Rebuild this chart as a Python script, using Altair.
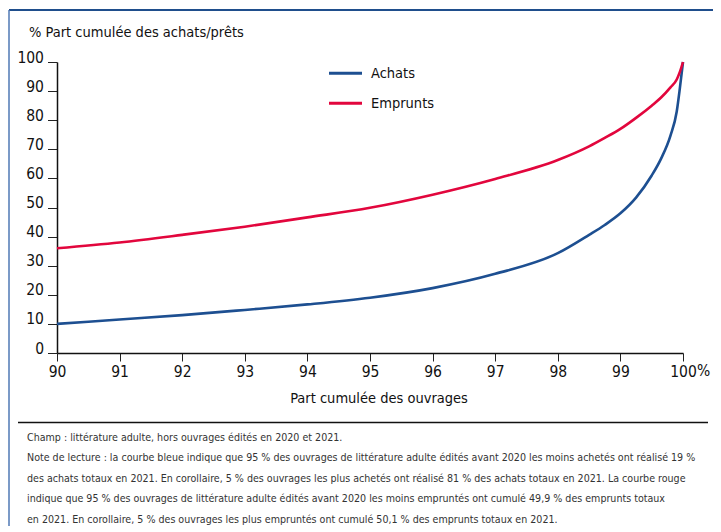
import altair as alt
import pandas as pd

# ---- data ----
x_vals = [90, 91, 92, 93, 94, 95, 96, 97, 98, 98.5, 98.75, 99, 99.25, 99.5, 99.65, 99.8, 99.9, 99.95, 100]
achats = [10.0, 11.5, 13.0, 14.8, 16.7, 19.0, 22.3, 27.2, 34.3, 40.6, 44.0, 48.0, 53.4, 61.0, 66.8, 74.7, 83.0, 91.0, 100.0]
emprunts = [36.0, 38.0, 40.6, 43.4, 46.6, 49.9, 54.4, 59.8, 66.3, 71.0, 73.9, 77.0, 80.8, 85.0, 87.8, 91.3, 94.0, 96.6, 100.0]
series_names = ["Achats", "Emprunts"]
series_colors = ["#1d4f91", "#e2063d"]
x_ticks = [90, 91, 92, 93, 94, 95, 96, 97, 98, 99, 100]
y_ticks = [0, 10, 20, 30, 40, 50, 60, 70, 80, 90, 100]
y_title = "% Part cumulée des achats/prêts"
x_title = "Part cumulée des ouvrages"
notes = [
    "Champ : littérature adulte, hors ouvrages édités en 2020 et 2021.",
    "Note de lecture : la courbe bleue indique que 95 % des ouvrages de littérature adulte édités avant 2020 les moins achetés ont réalisé 19 %",
    "des achats totaux en 2021. En corollaire, 5 % des ouvrages les plus achetés ont réalisé 81 % des achats totaux en 2021. La courbe rouge",
    "indique que 95 % des ouvrages de littérature adulte édités avant 2020 les moins empruntés ont cumulé 49,9 % des emprunts totaux",
    "en 2021. En corollaire, 5 % des ouvrages les plus empruntés ont cumulé 50,1 % des emprunts totaux en 2021.",
]

FONT = "DejaVu Sans Condensed, sans-serif"
TICK_FS = 15.5
TITLE_FS = 14.5
NOTE_FS = 10.6

df = pd.DataFrame(
    {
        "x": x_vals * 2,
        "y": achats + emprunts,
        "serie": [series_names[0]] * len(x_vals) + [series_names[1]] * len(x_vals),
    }
)

W, H = 626, 291

xscale = alt.Scale(domain=[90, 100], nice=False, zero=False)
yscale = alt.Scale(domain=[0, 100], nice=False)

lines = (
    alt.Chart(df)
    .mark_line(strokeWidth=2.6, interpolate="monotone")
    .encode(
        x=alt.X(
            "x:Q",
            scale=xscale,
            axis=alt.Axis(
                values=x_ticks,
                title=None,
                grid=False,
                tickSize=8,
                tickColor="#222",
                labelPadding=3,
                labelFontSize=TICK_FS,
                labelFont=FONT,
                labelColor="#111",
                labelFlush=False,
                labelOverlap=False,
                domainColor="#111",
                domainWidth=1.5,
            ),
        ),
        y=alt.Y(
            "y:Q",
            scale=yscale,
            axis=alt.Axis(
                values=y_ticks,
                title=None,
                grid=False,
                tickSize=9.5,
                tickColor="#222",
                labelPadding=4,
                labelFontSize=TICK_FS,
                labelFont=FONT,
                labelColor="#111",
                labelBaseline="alphabetic",
                labelFlush=False,
                labelOverlap=False,
                domainColor="#111",
                domainWidth=1.5,
            ),
        ),
        color=alt.Color(
            "serie:N",
            scale=alt.Scale(domain=series_names, range=series_colors),
            legend=None,
        ),
        detail="serie:N",
    )
)

base = alt.Chart(pd.DataFrame({"k": [0]}))

# frame (blue top and left borders) and separator line
top_border = base.mark_rule(color="#1f4e8c", strokeWidth=2).encode(
    x=alt.value(-48), x2=alt.value(700), y=alt.value(-52)
)
left_border = base.mark_rule(color="#4f78b5", strokeWidth=1.5).encode(
    x=alt.value(-48), y=alt.value(-52), y2=alt.value(480)
)
separator = base.mark_rule(color="#111", strokeWidth=1.3).encode(
    x=alt.value(-39), x2=alt.value(651), y=alt.value(360.5)
)

# legend (manual)
leg_rows = [11.3, 41.3]
legend_layers = []
for name, col, yy in zip(series_names, series_colors, leg_rows):
    legend_layers.append(
        base.mark_rule(color=col, strokeWidth=3).encode(
            x=alt.value(272), x2=alt.value(305), y=alt.value(yy)
        )
    )
    legend_layers.append(
        base.mark_text(
            text=name, font=FONT, fontSize=TITLE_FS, color="#111", align="left", baseline="middle"
        ).encode(x=alt.value(314), y=alt.value(yy + 0.5))
    )

ytitle = base.mark_text(
    text=y_title, font=FONT, fontSize=TITLE_FS, color="#111", align="left", baseline="alphabetic"
).encode(x=alt.value(-28), y=alt.value(-25))

xtitle = base.mark_text(
    text=x_title, font=FONT, fontSize=TITLE_FS, color="#111", align="center", baseline="alphabetic"
).encode(x=alt.value(322), y=alt.value(341))

pct = base.mark_text(
    text="%", font=FONT, fontSize=TICK_FS, color="#111", align="left", baseline="top"
).encode(x=alt.value(640), y=alt.value(302))

footnote = base.mark_text(
    font=FONT, fontSize=NOTE_FS, color="#333", align="left", baseline="alphabetic", lineHeight=20.6
).encode(x=alt.value(-30), y=alt.value(378.5), text=alt.value(notes))

chart = (
    alt.layer(
        top_border,
        left_border,
        separator,
        lines,
        *legend_layers,
        ytitle,
        xtitle,
        pct,
        footnote,
    )
    .properties(
        width=W,
        height=H,
        autosize=alt.AutoSizeParams(type="none"),
        padding={"left": 49, "top": 54, "right": 30, "bottom": 173},
        background="white",
    )
    .configure_view(stroke=None)
)

chart.save("out.html", embed_options={"renderer": "svg", "actions": False})
